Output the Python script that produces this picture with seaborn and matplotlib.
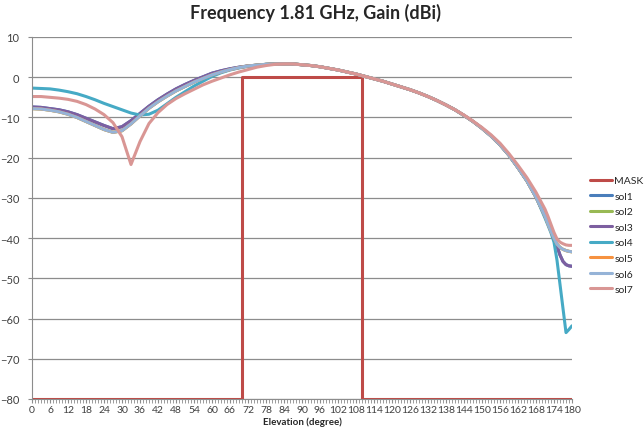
import matplotlib
matplotlib.use('Agg')
import matplotlib.pyplot as plt
import seaborn as sns
import pandas as pd
from matplotlib.ticker import MultipleLocator

# Elevation grid (degrees) for the solution curves
elev = [0, 3, 6, 9, 12, 15, 18, 21, 24, 27, 30, 33, 36, 39, 42, 45, 48, 51, 54, 57,
        60, 63, 66, 69, 72, 75, 78, 81, 84, 87, 90, 93, 96, 99, 102, 105, 108, 111, 114, 117,
        120, 123, 126, 129, 132, 135, 138, 141, 144, 147, 150, 153, 156, 159, 162, 165, 168, 171,
        172, 173, 174, 175, 176, 177, 178, 179, 180]

# Mask
mask_x = [0, 70, 70, 110, 110, 180]
mask_y = [-80, -80, 0, 0, -80, -80]

sol1 = [-7.4, -7.5, -7.8, -8.1, -8.6, -9.3, -10.2, -11.1, -12.0, -12.8, -12.3, -10.8, -9.0, -7.2, -5.6, -4.2, -2.9, -1.8, -0.8, 0.1,
        1.0, 1.6, 2.1, 2.5, 2.8, 3.0, 3.2, 3.3, 3.3, 3.3, 3.1, 2.9, 2.6, 2.2, 1.8, 1.3, 0.8, 0.2, -0.4, -1.0,
        -1.7, -2.4, -3.1, -3.9, -4.8, -5.8, -6.9, -8.1, -9.5, -11.0, -12.7, -14.6, -16.8, -19.4, -22.5, -25.8, -29.8, -34.5,
        -36.2, -38.0, -40.0, -42.0, -44.2, -45.8, -46.6, -46.9, -47.0]
sol2 = [-7.8, -7.9, -8.2, -8.6, -9.2, -10.0, -11.0, -12.0, -13.0, -13.7, -13.3, -11.6, -9.6, -7.7, -6.1, -4.7, -3.4, -2.3, -1.2, -0.3,
        0.6, 1.3, 1.9, 2.4, 2.8, 3.0, 3.2, 3.3, 3.3, 3.3, 3.1, 2.9, 2.6, 2.2, 1.8, 1.3, 0.8, 0.2, -0.4, -1.0,
        -1.7, -2.4, -3.1, -3.9, -4.8, -5.8, -6.9, -8.1, -9.5, -11.0, -12.7, -14.6, -16.8, -19.4, -22.5, -25.8, -29.8, -34.5,
        -36.5, -38.3, -40.0, -41.5, -42.3, -42.8, -43.1, -43.3, -43.4]
sol3 = [-7.4, -7.5, -7.8, -8.1, -8.6, -9.3, -10.2, -11.1, -12.0, -12.8, -12.3, -10.8, -9.0, -7.2, -5.6, -4.2, -2.9, -1.8, -0.8, 0.1,
        1.0, 1.6, 2.1, 2.5, 2.8, 3.0, 3.2, 3.3, 3.3, 3.3, 3.1, 2.9, 2.6, 2.2, 1.8, 1.3, 0.8, 0.2, -0.4, -1.0,
        -1.7, -2.4, -3.1, -3.9, -4.8, -5.8, -6.9, -8.1, -9.5, -11.0, -12.7, -14.6, -16.8, -19.4, -22.5, -25.8, -29.8, -34.5,
        -36.2, -38.0, -40.0, -42.0, -44.2, -45.8, -46.6, -46.9, -47.0]
sol4 = [-2.7, -2.8, -2.9, -3.2, -3.6, -4.1, -4.8, -5.6, -6.5, -7.3, -8.1, -8.9, -9.4, -9.2, -8.2, -6.6, -5.0, -3.6, -2.2, -1.0,
        0.2, 1.1, 1.8, 2.3, 2.7, 3.0, 3.2, 3.3, 3.3, 3.3, 3.1, 2.9, 2.6, 2.2, 1.8, 1.3, 0.8, 0.2, -0.4, -1.0,
        -1.7, -2.4, -3.1, -3.9, -4.8, -5.8, -6.9, -8.1, -9.5, -11.0, -12.7, -14.6, -16.8, -19.4, -22.5, -25.8, -29.8, -35.0,
        -36.8, -38.7, -41.0, -45.5, -51.5, -57.5, -63.5, -62.7, -61.8]
sol5 = [-7.8, -7.9, -8.2, -8.6, -9.2, -10.0, -11.0, -12.0, -13.0, -13.7, -13.3, -11.6, -9.6, -7.7, -6.1, -4.7, -3.4, -2.3, -1.2, -0.3,
        0.6, 1.3, 1.9, 2.4, 2.8, 3.0, 3.2, 3.3, 3.3, 3.3, 3.1, 2.9, 2.6, 2.2, 1.8, 1.3, 0.8, 0.2, -0.4, -1.0,
        -1.7, -2.4, -3.1, -3.9, -4.8, -5.8, -6.9, -8.1, -9.5, -11.0, -12.7, -14.6, -16.8, -19.4, -22.5, -25.8, -29.8, -34.5,
        -36.5, -38.3, -40.0, -41.5, -42.3, -42.8, -43.1, -43.3, -43.4]
sol6 = [-7.8, -7.9, -8.2, -8.6, -9.2, -10.0, -11.0, -12.0, -13.0, -13.7, -13.3, -11.6, -9.6, -7.7, -6.1, -4.7, -3.4, -2.3, -1.2, -0.3,
        0.6, 1.3, 1.9, 2.4, 2.8, 3.0, 3.2, 3.3, 3.3, 3.3, 3.1, 2.9, 2.6, 2.2, 1.8, 1.3, 0.8, 0.2, -0.4, -1.0,
        -1.7, -2.4, -3.1, -3.9, -4.8, -5.8, -6.9, -8.1, -9.5, -11.0, -12.7, -14.6, -16.8, -19.4, -22.5, -25.8, -29.8, -34.5,
        -36.5, -38.3, -40.0, -41.5, -42.3, -42.8, -43.1, -43.3, -43.4]
sol7 = [-4.8, -4.8, -5.0, -5.2, -5.5, -6.0, -6.8, -7.9, -9.3, -11.3, -14.8, -21.7, -16.0, -11.5, -8.8, -6.8, -5.3, -4.1, -3.0, -1.9,
        -1.0, -0.2, 0.6, 1.3, 1.9, 2.5, 2.9, 3.2, 3.3, 3.3, 3.1, 2.9, 2.6, 2.2, 1.8, 1.3, 0.8, 0.2, -0.4, -1.0,
        -1.7, -2.4, -3.1, -3.9, -4.8, -5.8, -6.9, -8.1, -9.4, -10.9, -12.5, -14.3, -16.4, -19.0, -21.9, -25.0, -28.6, -32.8,
        -34.6, -36.6, -38.6, -40.2, -41.0, -41.4, -41.7, -41.8, -41.8]

series = {'sol1': sol1, 'sol2': sol2, 'sol3': sol3, 'sol4': sol4,
          'sol5': sol5, 'sol6': sol6, 'sol7': sol7}
colors = {'MASK': '#BE4B48', 'sol1': '#4A7EBB', 'sol2': '#98B954', 'sol3': '#7D5FA0',
          'sol4': '#46AAC5', 'sol5': '#F69240', 'sol6': '#95B3D7', 'sol7': '#D99694'}

sns.set_style('white')
plt.rcParams['font.family'] = ['Lato', 'DejaVu Sans']

fig = plt.figure(figsize=(6.44, 4.35), dpi=100)
ax = fig.add_axes([32 / 644, 1 - 400 / 435, 540 / 644, 362 / 435])

# Mask first, then the solutions on top
sns.lineplot(x=mask_x, y=mask_y, ax=ax, color=colors['MASK'], lw=2.2,
             estimator=None, sort=False, label='MASK')
for name, vals in series.items():
    sns.lineplot(x=elev, y=vals, ax=ax, color=colors[name], lw=2.2,
                 estimator=None, sort=False, label=name)

ax.set_xlim(0, 180)
ax.set_ylim(-80, 10)
ax.yaxis.set_major_locator(MultipleLocator(10))
ax.xaxis.set_major_locator(MultipleLocator(6))
ax.xaxis.set_minor_locator(MultipleLocator(1))
ax.grid(axis='y', color='#8C8C8C', lw=0.9)
ax.set_axisbelow(True)
for s in ['top', 'right']:
    ax.spines[s].set_visible(False)
ax.spines['left'].set_color('#8C8C8C')
ax.spines['bottom'].set_color('#8C8C8C')
ax.tick_params(axis='y', which='major', left=True, length=3, color='#8C8C8C',
               labelsize=8, labelcolor='#404040', pad=6)
ax.tick_params(axis='x', which='both', bottom=True, length=3, color='#8C8C8C',
               labelsize=7.5, labelcolor='#404040', pad=1)

ax.set_xlabel('Elevation (degree)', fontsize=7, fontweight='bold', labelpad=2)
ax.set_ylabel('')
fig.suptitle('Frequency 1.81 GHz, Gain (dBi)', x=0.49, y=0.99, fontsize=13, fontweight='bold')

ax.get_legend().remove()
h, l = ax.get_legend_handles_labels()
fig.legend(h, l, loc='center left', bbox_to_anchor=(590 / 644, 1 - 236 / 435),
           frameon=False, fontsize=7.5, handlelength=2.1, handletextpad=0.25,
           labelspacing=0.6, borderaxespad=0, borderpad=0)

fig.savefig('out.png', dpi=100)
